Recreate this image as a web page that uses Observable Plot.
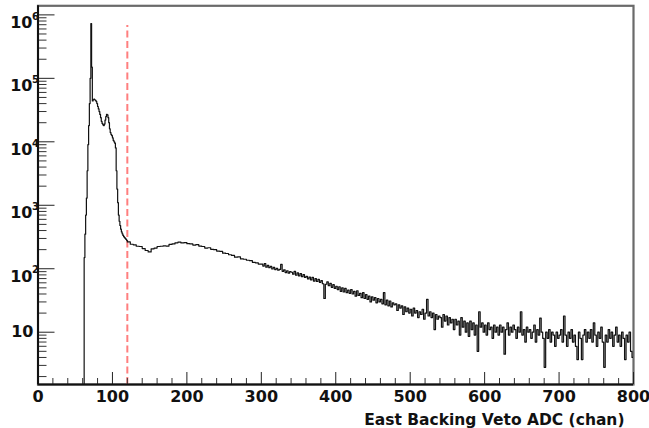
<!DOCTYPE html>
<html><head><meta charset="utf-8">
<script src="https://cdn.jsdelivr.net/npm/d3@7"></script>
<script src="https://cdn.jsdelivr.net/npm/@observablehq/plot@0.6"></script>
<style>
body{margin:0;background:#fff;}
#chart svg text{font-family:"DejaVu Sans",sans-serif;font-weight:bold;}
</style></head><body><div id="chart"></div>
<script>
// Histogram: fine bins around the pedestal / peak (channels 61..119, width 1)
const peakStart = 61;
const peakWidth = 1;
const peakCounts = [1, 150, 350, 700, 1300, 3500, 9000, 18000, 40000, 100000,
  730000, 150000, 44000, 46000, 47000, 46000, 45000, 43000, 40000, 36000,
  33000, 30000, 27000, 24000, 21000, 19500, 18500, 18000, 19000, 22000,
  25000, 27000, 26500, 24000, 20000, 16000, 14000, 13000, 12500, 11500,
  10500, 10000, 9500, 8000, 3500, 1800, 1100, 700, 560, 480,
  420, 380, 355, 335, 320, 310, 300, 290, 280];
// Shoulder (channels 120..300, width 4)
const midStart = 120;
const midWidth = 4;
const midCounts = [
  265, 243, 238, 226, 224, 208, 194, 184, 206, 212,
  224, 226, 230, 228, 242, 246, 256, 262, 255, 258,
  248, 246, 236, 240, 228, 224, 212, 214, 202, 200,
  190, 188, 176, 174, 166, 162, 152, 154, 143, 141,
  136, 134, 126, 124, 118];
// Tail (channels 300..800, width 2)
const tailStart = 300;
const tailWidth = 2;
const tailCounts = [
  118, 110, 121, 106, 113, 104, 109, 99, 105, 97,
  101, 95, 98, 117, 91, 96, 87, 93, 85, 90,
  88, 82, 91, 79, 86, 77, 84, 75, 81, 73,
  76, 69, 74, 67, 73, 64, 70, 63, 68, 61,
  65, 58, 34, 57, 62, 54, 59, 51, 56, 49,
  53, 47, 52, 44, 50, 43, 49, 42, 46, 41,
  47, 40, 44, 37, 45, 38, 41, 35, 42, 34,
  39, 33, 37, 30, 36, 32, 35, 29, 34, 30,
  33, 28, 42, 27, 32, 26, 31, 25, 29, 27,
  28, 22, 27, 24, 26, 19, 25, 21, 24, 20,
  23, 18, 24, 20, 22, 17, 21, 19, 23, 16,
  20, 33, 18, 21, 17, 20, 11, 19, 16, 18,
  17, 12, 19, 15, 18, 13, 17, 14, 16, 11,
  16, 13, 15, 9, 17, 12, 15, 10, 14, 8.6,
  15, 11, 14, 9, 13, 5, 21, 12, 14, 10,
  13, 9, 14, 11, 12, 8, 13, 10, 12, 9,
  13, 10, 12, 4.5, 11, 14, 9, 12, 10, 13,
  11, 8, 12, 10, 21, 9, 11, 7, 12, 10,
  11, 8, 10, 13, 7, 11, 9, 16.7, 10, 8,
  2.8, 10, 8, 11, 7, 10, 9, 6, 10, 8,
  9, 11, 7, 18, 9, 6, 10, 8, 11, 7,
  9, 6, 3.7, 10, 8, 3.7, 9, 11, 7, 10,
  8, 11, 7, 14, 9, 6, 10, 8, 12, 7,
  2.8, 9, 7, 11, 8, 10, 6, 9, 12, 7,
  9, 6, 10, 8, 3.7, 9, 7, 10, 5, 4];

const xDomain = [0, 800];
const yDomain = [1.5, 1.39e6];
const xMajor = [0, 100, 200, 300, 400, 500, 600, 700, 800];
const xMinor = d3.range(0, 801, 20).filter(v => v % 100 !== 0);
const yDecades = [10, 100, 1000, 10000, 100000, 1000000];
const yExponents = ["", "2", "3", "4", "5", "6"];
const yMinor = [];
[1, 10, 100, 1000, 10000, 100000, 1000000].forEach(d => {
  for (let m = 2; m <= 9; m++) { const v = d * m; if (v >= yDomain[0] && v <= yDomain[1]) yMinor.push(v); }
});
const cutChannel = 120;
const cutTop = 6.8e5;
const xLabel = "East Backing Veto ADC (chan)";

const points = [];
function addBins(start, width, counts) {
  counts.forEach((c, i) => {
    const x0 = start + i * width;
    points.push({x: x0, y: c}, {x: x0 + width, y: c});
  });
}
addBins(peakStart, peakWidth, peakCounts);
addBins(midStart, midWidth, midCounts);
addBins(tailStart, tailWidth, tailCounts);

const W = 649, H = 428, mL = 37.5, mR = 16, mT = 5.3, mB = 44;
const plotW = W - mL - mR, plotH = H - mT - mB;
const expLabels = yDecades.map((d, i) => ({d, e: yExponents[i]}));

const chart = Plot.plot({
  width: W, height: H,
  marginLeft: mL, marginRight: mR, marginTop: mT, marginBottom: mB,
  x: {domain: xDomain, axis: null},
  y: {type: "log", domain: yDomain, axis: null},
  marks: [
    Plot.frame({stroke: "#6a6a6a", strokeWidth: 2.2}),
    Plot.ruleX([cutChannel], {x: d => d, y1: yDomain[0], y2: cutTop, stroke: "#ff7f7f", strokeWidth: 2, strokeDasharray: "7,3.5"}),
    Plot.line(points, {x: "x", y: "y", stroke: "#111", strokeWidth: 1.2, clip: true}),
    Plot.tickY(yDecades, {y: d => d, insetRight: plotW - 17, stroke: "#222", strokeWidth: 1}),
    Plot.tickY(yMinor, {y: d => d, insetRight: plotW - 9, stroke: "#333", strokeWidth: 1}),
    Plot.tickX(xMajor, {x: d => d, insetTop: plotH - 12, stroke: "#222", strokeWidth: 1}),
    Plot.tickX(xMinor, {x: d => d, insetTop: plotH - 6, stroke: "#333", strokeWidth: 1}),
    Plot.ruleX([xDomain[0]], {x: d => d, stroke: "#111", strokeWidth: 2}),
    Plot.ruleY([yDomain[0]], {y: d => d, stroke: "#111", strokeWidth: 2}),
    Plot.text(xMajor, {x: d => d, frameAnchor: "bottom", lineAnchor: "top", dy: 6, text: d => String(d), fontSize: 16, fill: "#111"}),
    Plot.text(expLabels.filter(o => o.e === ""), {y: "d", frameAnchor: "left", textAnchor: "end", lineAnchor: "middle", dx: -4.5, text: () => "10", fontSize: 16, fill: "#111"}),
    Plot.text(expLabels.filter(o => o.e !== ""), {y: "d", frameAnchor: "left", textAnchor: "end", lineAnchor: "middle", dx: -5.5, dy: 8, text: () => "10", fontSize: 16, fill: "#111"}),
    Plot.text(expLabels.filter(o => o.e !== ""), {y: "d", frameAnchor: "left", textAnchor: "start", lineAnchor: "middle", dx: -6, dy: 1.5, text: "e", fontSize: 10, fill: "#111"}),
    Plot.text([xLabel], {frameAnchor: "bottom-right", textAnchor: "end", lineAnchor: "top", dx: -9, dy: 29, text: d => d, fontSize: 15.5, fill: "#111"})
  ]
});
document.getElementById("chart").append(chart);
</script>
</body></html>
